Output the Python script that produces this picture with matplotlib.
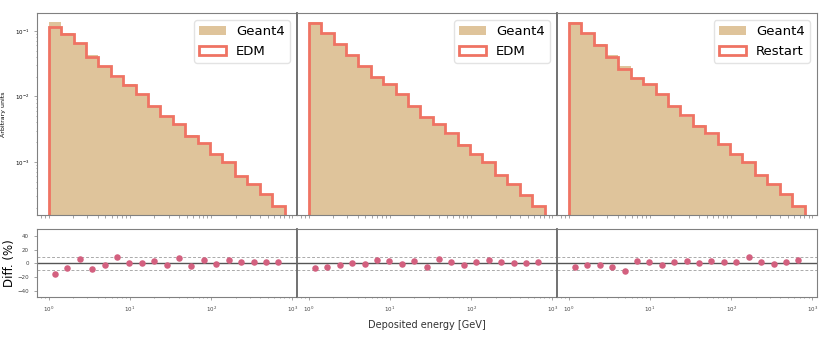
import numpy as np
import matplotlib
matplotlib.use("Agg")
import matplotlib.pyplot as plt

# ---- data ----
bin_edges_log = (0.0, 2.905, 20)          # log10 of first/last edge, number of edges
labels = ["EDM", "EDM", "Restart"]

geant4 = [0.134, 0.0933, 0.0627, 0.0421, 0.0289, 0.0194, 0.0152, 0.0107, 0.00708,
          0.00493, 0.00372, 0.00262, 0.00191, 0.00131, 0.00099, 0.00062, 0.000462,
          0.000318, 0.000211]

edm1 = [0.115, 0.088, 0.0656, 0.0396, 0.0289, 0.0203, 0.0150, 0.0108, 0.00708,
        0.00499, 0.00376, 0.00253, 0.00195, 0.00130, 0.00100, 0.000620, 0.000468,
        0.000321, 0.000213]
edm2 = [0.1296, 0.0912, 0.0620, 0.0426, 0.0289, 0.0196, 0.01535, 0.0107, 0.00708,
        0.00486, 0.00376, 0.00272, 0.00184, 0.00134, 0.00100, 0.000626, 0.000468,
        0.000318, 0.000213]
restart = [0.1296, 0.0933, 0.0605, 0.0402, 0.0260, 0.0194, 0.01535, 0.0108, 0.00708,
           0.00516, 0.00355, 0.00272, 0.00186, 0.00131, 0.00100, 0.000626, 0.000468,
           0.000321, 0.000213]

diff1 = [-15.4, -6.3, 5.8, -7.7, -1.9, 8.7, 0.0, 0.0, 3.9, -2.4, 7.2, -3.4, 4.3,
         -0.5, 5.3, 1.4, 1.4, 1.4, 1.9]
diff2 = [-6.3, -5.3, -1.9, 0.0, -0.5, 5.3, 2.9, -1.4, 3.9, -5.3, 6.7, 1.4, -2.4,
         2.4, 4.3, 1.9, 0.0, 1.0, 1.9]
diff3 = [-5.3, -1.9, -2.9, -5.3, -10.6, 3.9, 2.4, -1.9, 2.4, 2.9, 0.0, 3.4, 1.4,
         1.9, 8.7, 2.4, -1.0, 2.4, 4.3]

models = [edm1, edm2, restart]
diffs = [diff1, diff2, diff3]

# ---- style ----
fill_col = "#dfc49b"
step_col = "#ef7363"
dot_col = "#d3607f"
spine_col = "#808080"

edges = np.logspace(*bin_edges_log)
centers = np.sqrt(edges[:-1] * edges[1:])

fig = plt.figure(figsize=(8.31, 3.38), dpi=100)
L, R = 0.0442, 0.9828
w = (R - L) / 3
top_b, top_t = 0.3639, 0.9606
bot_b, bot_t = 0.1204, 0.3216

for i in range(3):
    x0 = L + i * w
    axt = fig.add_axes([x0, top_b, w, top_t - top_b])
    axb = fig.add_axes([x0, bot_b, w, bot_t - bot_b], sharex=axt)

    axt.hist(centers, bins=edges, weights=geant4, histtype="stepfilled",
             color=fill_col, label="Geant4")
    axt.hist(centers, bins=edges, weights=models[i], histtype="step",
             color=step_col, lw=2, label=labels[i])
    axt.set_xscale("log")
    axt.set_yscale("log")
    axt.set_xlim(10 ** -0.148, 10 ** 3.055)
    axt.set_ylim(1.55e-4, 0.185)
    leg = axt.legend(loc="upper right", fontsize=9.5, frameon=True)
    leg.get_frame().set_edgecolor("#dddddd")
    axt.tick_params(axis="x", which="both", labelbottom=False, length=2,
                    color=spine_col, width=0.5)
    axt.tick_params(axis="y", which="major", labelsize=4, length=2,
                    color=spine_col, width=0.5)
    axt.tick_params(axis="y", which="minor", length=1, color=spine_col, width=0.5)
    if i == 0:
        axt.set_ylabel("Arbitrary units", fontsize=4.5, labelpad=6)
    else:
        axt.tick_params(axis="y", which="both", left=False, labelleft=False)

    axb.scatter(centers, diffs[i], s=22, color=dot_col, zorder=3, linewidths=0)
    axb.axhline(0, color="#555555", lw=1)
    axb.axhline(10, color="#aaaaaa", lw=0.7, ls=(0, (3, 2)))
    axb.axhline(-10, color="#aaaaaa", lw=0.7, ls=(0, (3, 2)))
    axb.set_ylim(-50, 50)
    axb.set_yticks([-40, -20, 0, 20, 40])
    axb.tick_params(axis="both", which="major", labelsize=4, length=2,
                    color=spine_col, width=0.5, labelcolor="#444444")
    axb.tick_params(axis="both", which="minor", length=1, color=spine_col, width=0.5)
    if i == 0:
        axb.set_ylabel("Diff. (%)", fontsize=8.5, labelpad=1)
    else:
        axb.tick_params(axis="y", which="both", left=False, labelleft=False)
    if i == 1:
        axb.set_xlabel("Deposited energy [GeV]", fontsize=7, color="#333333")

    for ax in (axt, axb):
        for s in ax.spines.values():
            s.set_color(spine_col)
        if i > 0:
            ax.spines["left"].set_linewidth(1.3)
            ax.spines["left"].set_color("#666666")

fig.savefig("out.png", dpi=100)
